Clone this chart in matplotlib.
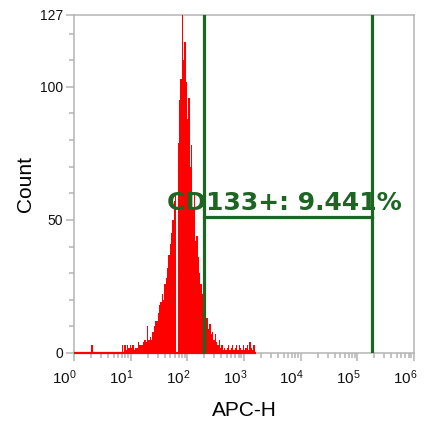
import numpy as np
import matplotlib
matplotlib.use("Agg")
import matplotlib.pyplot as plt
import matplotlib.transforms as mtransforms

plt.rcParams['font.family'] = ['Liberation Sans', 'DejaVu Sans']

# ==========================
# Histogram data (256 log channels over 6 decades)
# ==========================
N_CHANNELS = 256
DECADES = 6

lone_channels = [13]
lone_counts = [3]

first_channel = 36
channel_counts = [
    3, 0, 3, 1, 3, 2, 3, 2, 3, 1,       # 36-45
    2, 2, 4, 3, 3, 3, 4, 5, 4, 10,      # 46-55
    5, 6, 5, 8, 10, 12, 12, 15, 18, 19, # 56-65
    22, 20, 26, 28, 32, 37, 41, 45, 50, 57,  # 66-75
    60, 0, 79, 95, 103, 127, 110, 117, 102, 88,  # 76-85
    96, 70, 78, 55, 60, 42, 44, 36, 30, 26,  # 86-95
    22, 18, 20, 13, 13, 9, 11, 7, 8, 5,  # 96-105
    7, 4, 3, 5, 2, 3, 1, 2, 1, 2,       # 106-115
    3, 1, 2, 3, 1, 2, 3, 1, 3, 2,       # 116-125
    1, 3, 1, 2, 3, 1, 4, 2, 1, 3,       # 126-135
    0,                                  # 136
]

# gate
gate_low = 195
gate_high = 1.8e5
gate_y = 51
gate_label = "CD133+: 9.441%"

# ==========================
# Build histogram
# ==========================
n_used = first_channel + len(channel_counts)
counts = np.zeros(n_used)
counts[lone_channels] = lone_counts
counts[first_channel:] = channel_counts
edges = np.logspace(0, DECADES, N_CHANNELS + 1)[:n_used + 1]

# ==========================
# Plot
# ==========================
fig = plt.figure(figsize=(4.33, 4.32), dpi=100)
ax = fig.add_axes([74 / 433, 79 / 432, 340 / 433, 338 / 432])

ax.stairs(counts, edges, fill=True, color='#ff0000', lw=1.0, zorder=3)
# red baseline under the histogram, drawn over the spine
ax.plot([edges[0], edges[-1]], [0, 0], color='#ff0000', lw=1.6, zorder=3,
        clip_on=False, solid_capstyle='butt')

green = '#1c6522'
ax.plot([gate_low, gate_low], [0, 127], color=green, lw=2.3, zorder=4)
ax.plot([gate_high, gate_high], [0, 127], color=green, lw=2.3, zorder=4)
ax.plot([gate_low, gate_high], [gate_y, gate_y], color=green, lw=2.3, zorder=4)
ax.text(44, 53.8, gate_label, color=green, fontsize=18, fontweight='bold',
        family='DejaVu Sans', va='baseline', ha='left', zorder=5)

ax.set_xscale('log')
ax.set_xlim(1, 1e6)
ax.set_ylim(0, 127)

grey = '#b4b4b4'
for s in ax.spines.values():
    s.set_color(grey)
    s.set_linewidth(1.1)

ax.set_xticks([10 ** k for k in range(7)])
ax.set_xticklabels([r'$\mathregular{10^{%d}}$' % k for k in range(7)])
ax.xaxis.set_minor_locator(matplotlib.ticker.LogLocator(base=10, subs=np.arange(2, 10), numticks=20))
ax.xaxis.set_minor_formatter(matplotlib.ticker.NullFormatter())

ax.set_yticks([0, 50, 100, 127])
ax.set_yticks([10, 20, 30, 40, 60, 70, 80, 90, 110, 120], minor=True)

ax.tick_params(which='major', length=6, width=1.1, color=grey, labelsize=10,
               labelcolor='#111111')
ax.tick_params(which='minor', length=3.5, width=1.1, color=grey)
ax.tick_params(axis='y', pad=2)
ax.tick_params(axis='x', pad=5, labelsize=11)

offset = mtransforms.ScaledTranslation(3 / 100, 0, fig.dpi_scale_trans)
for lab in ax.get_xticklabels():
    lab.set_ha('right')
    lab.set_transform(lab.get_transform() + offset)

ax.set_xlabel('APC-H', fontsize=15, labelpad=10)
ax.set_ylabel('Count', fontsize=15, labelpad=3)

fig.savefig('out.png', dpi=100)
